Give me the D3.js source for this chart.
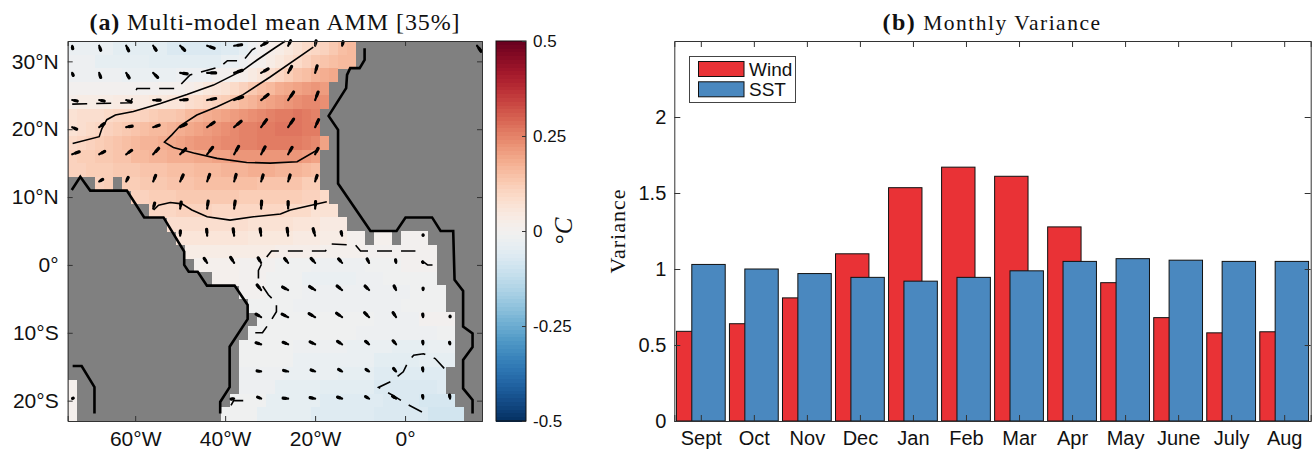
<!DOCTYPE html>
<html>
<head>
<meta charset="utf-8">
<script src="https://cdn.jsdelivr.net/npm/d3@7"></script>
<style>
  body { margin: 0; background: #fff; }
  text { fill: #111; }
</style>
</head>
<body>
<div id="chart"></div>
<script>
const _ = null; // land

// (a) AMM pattern, hundredths of a degree, 2 degree cells, north to south
// a row stops at its last ocean cell, the rest of it is land
const sstAnom = [
  [-3,-3,-3,-3,-3,-5,-5,-5,-5,-5,-5,-7,-7,-7,-7,-7,-7,-6,-6,-4,-2,0,2,3,5,7,9,10,11,13,15,16],
  [-2,-2,-2,-4,-4,-4,-4,-4,-4,-5,-5,-5,-5,-5,-5,-5,-5,-3,-3,-2,0,1,3,5,7,9,11,13,14,15,16,16],
  [-2,-2,-2,-2,-2,-2,-3,-3,-3,-3,-3,-3,-2,-2,-2,-2,0,0,1,2,4,6,8,10,12,14,15,17,18,19],
  [0,0,0,0,0,0,0,0,0,0,1,1,1,2,3,5,6,7,9,11,13,15,16,18,19,20,21,22,21],
  [2,3,3,3,3,4,4,4,4,5,5,6,6,8,9,10,11,12,14,16,17,19,20,21,22,23,24,24,23],
  [7,8,8,8,9,10,10,10,11,12,13,13,14,16,17,18,19,20,21,22,23,24,25,26,26,27,26,25],
  [7,8,9,10,11,12,13,14,15,16,16,17,18,19,20,21,22,23,24,25,25,26,26,27,27,27,26,26],
  [9,10,11,12,13,14,15,16,17,17,18,19,20,21,22,22,23,24,24,25,25,26,26,26,26,26,25,24,20],
  [11,12,12,13,13,14,14,16,16,17,17,18,18,18,19,19,20,20,22,22,22,22,22,22,22,22,21,20],
  [11,11,12,12,12,13,13,13,14,14,14,15,15,15,16,16,16,17,17,17,18,18,18,17,17,17,16,15],
  [_,_,_,11,12,_,12,12,13,13,13,14,14,14,15,15,15,15,15,15,15,14,14,14,14,14,12,12],
  [_,_,_,_,_,_,_,11,11,12,12,12,13,13,13,13,13,13,13,12,12,12,12,12,12,12,11,11,9],
  [_,_,_,_,_,_,_,_,_,10,10,10,11,11,11,11,10,10,10,10,10,10,10,10,9,9,9,7,7,7],
  [_,_,_,_,_,_,_,_,_,_,_,8,8,8,8,8,8,8,8,8,7,7,7,7,7,6,6,6,4,4,4],
  [_,_,_,_,_,_,_,_,_,_,_,_,6,6,6,6,6,6,6,6,5,5,5,5,5,4,4,4,3,3,3,1,1,_,1,1,_,0,0,0],
  [_,_,_,_,_,_,_,_,_,_,_,_,_,3,3,3,3,3,3,3,3,3,3,2,2,2,2,2,1,1,1,1,1,0,0,0,0,0,0,0,0],
  [_,_,_,_,_,_,_,_,_,_,_,_,_,_,1,1,1,1,1,0,0,0,0,-1,-1,-1,-1,-2,-2,-2,-2,-2,-2,-1,-1,-1,-1,0,0,0,0],
  [_,_,_,_,_,_,_,_,_,_,_,_,_,_,_,_,1,1,1,0,0,0,-1,-1,-1,-1,-3,-3,-3,-3,-3,-3,-2,-2,-2,-1,-1,-1,-1,-1,-1],
  [_,_,_,_,_,_,_,_,_,_,_,_,_,_,_,_,_,_,_,0,0,0,-1,-1,-1,-1,-2,-2,-2,-2,-2,-2,-2,-2,-2,-2,-2,-2,-1,-1,-1,-1],
  [_,_,_,_,_,_,_,_,_,_,_,_,_,_,_,_,_,_,_,_,-1,-1,-1,-1,-1,-2,-2,-2,-2,-2,-2,-2,-2,-2,-2,-2,-2,-1,-1,-1,-1,-1],
  [_,_,_,_,_,_,_,_,_,_,_,_,_,_,_,_,_,_,_,_,_,-1,-1,-1,-1,-1,-1,-1,-1,-1,-1,-1,-1,-1,-2,-2,-2,-2,-2,0,0,0,0],
  [_,_,_,_,_,_,_,_,_,_,_,_,_,_,_,_,_,_,_,_,-1,-1,-1,-1,-1,-1,-1,-1,-1,-1,-1,-1,-2,-2,-2,-2,-2,-2,-2,-2,-2,-1,-1],
  [_,_,_,_,_,_,_,_,_,_,_,_,_,_,_,_,_,_,_,-1,-1,-1,-1,-1,-1,-2,-2,-2,-2,-2,-2,-3,-3,-3,-3,-3,-4,-4,-4,-4,-3,-3,-3],
  [_,_,_,_,_,_,_,_,_,_,_,_,_,_,_,_,_,_,_,-1,-1,-1,-1,-1,-1,-3,-3,-3,-3,-3,-3,-3,-3,-3,-5,-5,-5,-5,-5,-4,-4,-4,-4],
  [_,_,_,_,_,_,_,_,_,_,_,_,_,_,_,_,_,_,_,-2,-2,-2,-2,-2,-3,-3,-3,-3,-3,-3,-4,-4,-4,-4,-6,-6,-6,-6,-6,-6,-6,-6],
  [1,_,_,_,_,_,_,_,_,_,_,_,_,_,_,_,_,_,_,-2,-2,-2,-2,-4,-4,-4,-4,-4,-5,-5,-5,-5,-5,-5,-7,-7,-7,-7,-7,-7,-7,-6],
  [1,_,_,_,_,_,_,_,_,_,_,_,_,_,_,_,_,_,-1,-1,-1,-1,-4,-4,-4,-4,-4,-4,-6,-6,-6,-6,-6,-6,-6,-7,-7,-7,-7,-8,-8,-8,-8],
  [1,_,_,_,_,_,_,_,_,_,_,_,_,_,_,_,_,-1,-1,-1,-1,-4,-4,-4,-4,-4,-4,-6,-6,-6,-6,-6,-6,-6,-7,-7,-7,-7,-7,-7,-9,-9,-9,-9]
];

// wind anomaly on a 6 x 4 degree grid
const windLons = [-74,-68,-62,-56,-50,-44,-38,-32,-26,-20,-14,-8,-2,4,10,16];
const windLats = [32.3,28.3,24.3,20.3,16.3,12.3,8.3,4.3,0.3,-3.7,-7.7,-11.7,-15.7,-19.7];
const windU = [
  [.05,.15,.25,.3,.45,.7,.75,.6,.25,.1,.1,_,_,_,_,.4],
  [.1,.15,.3,.45,.7,.85,.8,.7,.35,.2],
  [.5,.5,.5,.7,.7,.85,.85,.7,.55,.3],
  [.45,.5,.6,.6,.6,.7,.7,.55,.55,.35],
  [.7,.55,.55,.55,.55,.55,.45,.4,.4,.3],
  [_,.35,.2,.25,.3,.25,.2,.2,.2,.2],
  [_,_,_,.15,.1,.1,.1,.05,0,.05],
  [_,_,_,_,.02,-.05,-.1,-.1,-.1,-.2,-.1,_,_,0],
  [_,_,_,_,_,-.3,-.35,-.3,-.35,-.4,-.35,-.2,-.05,-.05],
  [_,_,_,_,_,_,_,-.4,-.55,-.55,-.5,-.4,-.2,0],
  [_,_,_,_,_,_,_,-.5,-.6,-.6,-.55,-.45,-.3,-.03,0],
  [_,_,_,_,_,_,_,-.5,-.5,-.5,-.45,-.35,-.3,-.03,-.05],
  [_,_,_,_,_,_,_,-.4,-.45,-.4,-.35,-.3,-.25,-.05],
  [.1,_,_,_,_,_,-.3,-.35,-.5,-.5,-.45,-.35,-.35,-.05,-.05]
];
const windV = [
  [-.3,-.45,-.5,-.45,-.45,-.25,.1,.35,.5,.5,.4,_,_,_,_,-.55],
  [-.25,-.45,-.5,-.45,-.1,0,.25,.4,.65,.7],
  [-.1,-.1,-.2,0,.05,.15,.3,.55,.8,.8],
  [-.2,.35,.1,.2,.3,.5,.6,.75,.8,.75],
  [.25,.3,.4,.6,.55,.7,.8,.75,.7,.6],
  [_,.2,.4,.6,.65,.7,.7,.65,.65,.6],
  [_,_,_,.55,.65,.75,.75,.75,.7,.7],
  [_,_,_,_,.5,.65,.7,.7,.75,.7,.4,_,_,.1],
  [_,_,_,_,_,.45,.55,.5,.45,.45,.4,.4,.3,.1],
  [_,_,_,_,_,_,_,.5,.3,.35,.4,.4,.4,.2],
  [_,_,_,_,_,_,_,.3,.3,.35,.4,.45,.45,.3,.1],
  [_,_,_,_,_,_,_,.15,.2,.25,.3,.3,.35,.3,.2],
  [_,_,_,_,_,_,_,.05,.1,.15,.2,.2,.3,.35],
  [.05,_,_,_,_,_,-.05,.15,.05,.1,.15,.2,.25,.3,.35]
];

// coast lines, [lon, lat]
const coasts = [
  [[-9,31.95],[-9,30.2],[-10.1,29],[-12.2,29],[-12.9,28],[-13.1,26.05],[-17,21.96],[-14.9,19.9],[-14.9,12],[-8.1,5.4],[-7.7,5],[-1.9,5],[0.1,7],[6,7],[7.9,5],[10.7,5],[11,-2.2],[12.9,-3.85],[12.9,-9.1],[15,-10.1],[15,-12.1],[12.9,-14],[12.9,-18.2],[15,-19.9],[15,-21.9]],
  [[-74.1,11.05],[-72.2,13],[-70,10.95],[-61.85,10.95],[-58,7],[-53.7,7],[-49.1,1.95],[-49.1,0],[-48.1,-1],[-46.1,-1],[-44.05,-3.05],[-37.9,-3.05],[-35,-5.9],[-35,-8],[-39,-12.05],[-39,-18],[-41.1,-20.2],[-41.1,-21.9]],
  [[-73.9,-14.9],[-71.9,-14.9],[-69.05,-18],[-69.05,-21.9]]
];

// contours of the pattern, solid positive, dashed zero
const solidContours = [
  [[-73.9,17.9],[-68,18.9],[-67.4,20.1],[-66.3,21.4],[-64.4,22.1],[-60.4,22.6],[-54.4,23.8],[-48.5,25.1],[-42.6,26.5],[-36,28.7],[-32.9,30.2],[-28.9,32],[-26.6,33]],
  [[-20.4,32.1],[-30,27.7],[-36,25.1],[-41.8,23.3],[-46.3,22.1],[-50,20.5],[-51.8,19.2],[-53.5,18.1],[-51.5,17.3],[-47,16.5],[-41.8,15.7],[-35.2,15.1],[-30,15],[-24,15.2],[-19.6,16.9]],
  [[-55.9,8.1],[-54.8,8.8],[-52.2,9.2],[-49.6,9],[-47.4,8.1],[-44,7.1],[-38.9,6.6],[-33.7,7.1],[-27.7,7.5],[-25.5,8.1],[-17.4,9.3]]
];
const dashedContours = [
  [[-74,23.7],[-61.1,23.9],[-59.6,26],[-50.7,26],[-47.8,28],[-41.1,29.2],[-39.5,30.1],[-36,30.1],[-34,31.7],[-30.6,32.9]],
  [[-33.3,-10],[-31.7,-10],[-30,-8.4],[-28.6,-6.9],[-28.6,-5.6],[-30.4,-4.4],[-32.6,-2.2],[-32.6,-0.8],[-31.7,0.4],[-29.7,2.05],[-17.7,2.05],[-16.8,3.1],[-11,2.9],[-9.9,2.05],[2.3,2.05]],
  [[8.7,-15.25],[6.7,-13.8],[4.1,-13.1],[1.9,-13.3],[0.6,-14.4],[-0.4,-15.75],[-2.9,-17.1],[-5.9,-18.05],[-2.5,-19.3],[0.1,-20.4],[4.7,-22]],
  [[-38.7,-20.7],[-38.1,-20],[-35.9,-20],[-35.9,-20.8]],
  [[3.8,0.6],[5,0],[6.1,0]]
];

const lonTicks = [-60,-40,-20,0];
const latTicks = [30,20,10,0,-10,-20];
const cbarTicks = [0.5,0.25,0,-0.25,-0.5];

// (b) monthly variance
const months = ["Sept","Oct","Nov","Dec","Jan","Feb","Mar","Apr","May","June","July","Aug"];
const windVar = [0.59,0.64,0.81,1.10,1.535,1.67,1.61,1.277,0.91,0.68,0.58,0.587];
const sstVar = [1.03,1.0,0.97,0.945,0.92,0.945,0.988,1.05,1.068,1.058,1.05,1.05];
const varTicks = [0,0.5,1,1.5,2];

const sans = "'Liberation Sans', Arial, sans-serif";
const serif = "'Liberation Serif', 'Times New Roman', serif";
const red = "#e93236";
const blue = "#4a88bf";
const frameCol = "#333";

const svg = d3.select("#chart").append("svg")
  .attr("width", 1316)
  .attr("height", 451)
  .style("display", "block");

const color = v => d3.interpolateRdBu(0.5 - v);

// ---- panel a ----
const lonX = d3.scaleLinear().domain([-75, 17.1]).range([67.7, 482]);
const latY = d3.scaleLinear().domain([33, -23]).range([41, 421]);
const geoLine = d3.line().x(d => lonX(d[0])).y(d => latY(d[1]));

const defs = svg.append("defs");
defs.append("filter").attr("id", "soft")
  .attr("x", 0).attr("y", 0).attr("width", 1).attr("height", 1)
  .append("feGaussianBlur").attr("stdDeviation", 0.6);

const mapG = svg.append("g");
const fieldG = mapG.append("g").attr("filter", "url(#soft)");
fieldG.append("rect")
  .attr("x", lonX(-75)).attr("y", latY(33))
  .attr("width", lonX(17.1) - lonX(-75))
  .attr("height", latY(-23) - latY(33))
  .attr("fill", "#808080");

sstAnom.forEach((row, j) => {
  fieldG.append("g").selectAll("rect")
    .data(row.map((v, i) => ({v: v, i: i})).filter(d => d.v !== null))
    .enter().append("rect")
    .attr("x", d => lonX(-75 + 2 * d.i))
    .attr("y", latY(33 - 2 * j))
    .attr("width", lonX(2) - lonX(0) + 0.5)
    .attr("height", latY(0) - latY(2) + 0.5)
    .attr("fill", d => color(d.v / 100))
    .attr("shape-rendering", "crispEdges");
});

mapG.selectAll(".coast")
  .data(coasts)
  .enter().append("path")
  .attr("class", "coast")
  .attr("d", geoLine)
  .attr("fill", "none")
  .attr("stroke", "#000")
  .attr("stroke-width", 2.6);

mapG.selectAll(".solid")
  .data(solidContours)
  .enter().append("path")
  .attr("class", "solid")
  .attr("d", geoLine)
  .attr("fill", "none")
  .attr("stroke", "#000")
  .attr("stroke-width", 1.6);

mapG.selectAll(".dashed")
  .data(dashedContours)
  .enter().append("path")
  .attr("class", "dashed")
  .attr("d", geoLine)
  .attr("fill", "none")
  .attr("stroke", "#000")
  .attr("stroke-width", 1.6)
  .attr("stroke-dasharray", "15 9");

// quiver, tail on the grid point, thick near the head
const vecLen = d3.scaleLinear().domain([0, 1]).range([0, 10]);
const vectors = [];
windU.forEach((row, j) => row.forEach((u, i) => {
  if (u !== null) vectors.push({lon: windLons[i], lat: windLats[j], u: u, v: windV[j][i]});
}));
mapG.selectAll(".shaft")
  .data(vectors)
  .enter().append("line")
  .attr("class", "shaft")
  .attr("x1", d => lonX(d.lon))
  .attr("y1", d => latY(d.lat))
  .attr("x2", d => lonX(d.lon) + vecLen(d.u))
  .attr("y2", d => latY(d.lat) - vecLen(d.v))
  .attr("stroke", "#000")
  .attr("stroke-width", 2.2)
  .attr("stroke-linecap", "round");
mapG.selectAll(".head")
  .data(vectors)
  .enter().append("line")
  .attr("class", "head")
  .attr("x1", d => lonX(d.lon) + vecLen(d.u) * 0.5)
  .attr("y1", d => latY(d.lat) - vecLen(d.v) * 0.5)
  .attr("x2", d => lonX(d.lon) + vecLen(d.u))
  .attr("y2", d => latY(d.lat) - vecLen(d.v))
  .attr("stroke", "#000")
  .attr("stroke-width", 3.2)
  .attr("stroke-linecap", "round");

function styleAxis(g, size) {
  g.select(".domain").attr("stroke", frameCol);
  g.selectAll(".tick line").attr("stroke", frameCol);
  g.selectAll("text").attr("font-family", sans).attr("font-size", size).attr("fill", "#111");
}
const lonLabel = d => d === 0 ? "0°" : Math.abs(d) + "°W";
const latLabel = d => d === 0 ? "0°" : Math.abs(d) + (d > 0 ? "°N" : "°S");

svg.append("g").attr("transform", `translate(0,${latY(-23)})`)
  .call(d3.axisBottom(lonX).tickValues(lonTicks).tickSize(-5).tickPadding(10).tickFormat(lonLabel))
  .call(styleAxis, 21);
svg.append("g").attr("transform", `translate(0,${latY(33)})`)
  .call(d3.axisTop(lonX).tickValues(lonTicks).tickSize(-5).tickFormat(""))
  .call(styleAxis, 21);
svg.append("g").attr("transform", `translate(${lonX(-75)},0)`)
  .call(d3.axisLeft(latY).tickValues(latTicks).tickSize(-5).tickPadding(9).tickFormat(latLabel))
  .call(styleAxis, 21);
svg.append("g").attr("transform", `translate(${lonX(17.1)},0)`)
  .call(d3.axisRight(latY).tickValues(latTicks).tickSize(-5).tickFormat(""))
  .call(styleAxis, 21);

const titleA = svg.append("text")
  .attr("x", 275).attr("y", 30)
  .attr("text-anchor", "middle")
  .attr("font-family", serif)
  .attr("font-size", 24)
  .attr("letter-spacing", 0.9);
titleA.append("tspan").attr("font-weight", "bold").text("(a)");
titleA.append("tspan").text(" Multi-model mean AMM [35%]");

// colour bar
const cbarY = d3.scaleLinear().domain([0.5, -0.5]).range([41, 421]);
const cbarLevels = d3.range(0.495, -0.5, -0.01);
svg.append("g").selectAll("rect")
  .data(cbarLevels)
  .enter().append("rect")
  .attr("x", 496)
  .attr("y", d => cbarY(d + 0.005))
  .attr("width", 30)
  .attr("height", cbarY(0) - cbarY(0.01) + 0.6)
  .attr("fill", d => color(d))
  .attr("shape-rendering", "crispEdges");
svg.append("rect")
  .attr("x", 496).attr("y", 41).attr("width", 30).attr("height", 380)
  .attr("fill", "none").attr("stroke", "#111");
svg.append("g").attr("transform", "translate(526,0)")
  .call(d3.axisRight(cbarY).tickValues(cbarTicks).tickSize(-4).tickPadding(7).tickFormat(d => String(d)))
  .call(styleAxis, 17)
  .call(g => g.select(".domain").remove());

const cbarLabel = svg.append("text")
  .attr("transform", "translate(572,231) rotate(-90)")
  .attr("text-anchor", "middle")
  .attr("font-family", serif)
  .attr("font-size", 25);
cbarLabel.append("tspan").text("°");
cbarLabel.append("tspan").attr("font-style", "italic").text("C");

// ---- panel b ----
const monthX = d3.scaleLinear().domain([0.5, 12.5]).range([674.3, 1310.7]);
const varY = d3.scaleLinear().domain([0, 2.5]).range([421, 41]);
const barW = monthX(0.63) - monthX(0);

svg.append("g").selectAll("rect")
  .data(windVar)
  .enter().append("rect")
  .attr("x", (d, i) => monthX(i + 1 - 0.145) - barW / 2)
  .attr("y", d => varY(d))
  .attr("width", barW)
  .attr("height", d => varY(0) - varY(d))
  .attr("fill", red)
  .attr("stroke", "#111");
svg.append("g").selectAll("rect")
  .data(sstVar)
  .enter().append("rect")
  .attr("x", (d, i) => monthX(i + 1 + 0.145) - barW / 2)
  .attr("y", d => varY(d))
  .attr("width", barW)
  .attr("height", d => varY(0) - varY(d))
  .attr("fill", blue)
  .attr("stroke", "#111");

const monthTicks = months.map((d, i) => i + 1);
svg.append("g").attr("transform", `translate(0,${varY(0)})`)
  .call(d3.axisBottom(monthX).tickValues(monthTicks).tickSize(-6).tickPadding(10).tickFormat(d => months[d - 1]))
  .call(styleAxis, 20);
svg.append("g").attr("transform", `translate(0,${varY(2.5)})`)
  .call(d3.axisTop(monthX).tickValues(monthTicks).tickSize(-6).tickFormat(""))
  .call(styleAxis, 20);
svg.append("g").attr("transform", `translate(${monthX(0.5)},0)`)
  .call(d3.axisLeft(varY).tickValues(varTicks).tickSize(-6).tickPadding(8).tickFormat(d => String(d)))
  .call(styleAxis, 20);
svg.append("g").attr("transform", `translate(${monthX(12.5)},0)`)
  .call(d3.axisRight(varY).tickValues(varTicks).tickSize(-6).tickFormat(""))
  .call(styleAxis, 20);

const titleB = svg.append("text")
  .attr("x", 992).attr("y", 30)
  .attr("text-anchor", "middle")
  .attr("font-family", serif)
  .attr("font-size", 21.5)
  .attr("letter-spacing", 1.5);
titleB.append("tspan").attr("font-weight", "bold").attr("font-size", 24).text("(b)");
titleB.append("tspan").text(" Monthly Variance");

svg.append("text")
  .attr("transform", "translate(625,231) rotate(-90)")
  .attr("text-anchor", "middle")
  .attr("font-family", serif)
  .attr("font-size", 22)
  .attr("letter-spacing", 1)
  .text("Variance");

// legend
const legend = svg.append("g");
legend.append("rect")
  .attr("x", 689.5).attr("y", 56.5).attr("width", 106).attr("height", 46)
  .attr("fill", "#fff").attr("stroke", "#444");
const legendItems = [["Wind", red], ["SST", blue]];
legendItems.forEach((d, i) => {
  legend.append("rect")
    .attr("x", 698.5).attr("y", 61.5 + i * 20.3)
    .attr("width", 45.5).attr("height", 15)
    .attr("fill", d[1]).attr("stroke", "#111");
  legend.append("text")
    .attr("x", 749).attr("y", 75.5 + i * 20.3)
    .attr("font-family", sans)
    .attr("font-size", 19)
    .text(d[0]);
});
</script>
</body>
</html>
